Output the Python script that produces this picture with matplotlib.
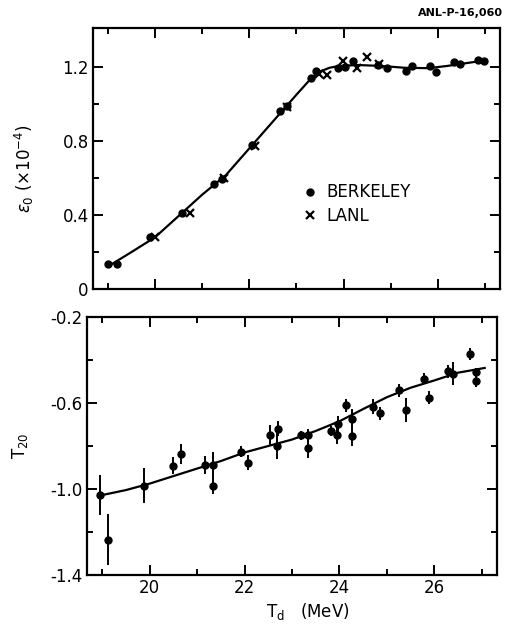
import matplotlib
matplotlib.use("Agg")
import matplotlib.pyplot as plt
from matplotlib.ticker import MultipleLocator, FixedLocator, FuncFormatter

plt.rcParams['font.family'] = ['DejaVu Sans']
plt.rcParams['axes.unicode_minus'] = False

# --- top panel: epsilon_0 (x 10^-4) vs T_d ---
berk_t = [19.00, 19.19, 19.88, 20.56, 21.25, 21.42, 22.06, 22.65, 22.79, 23.30, 23.42,
          23.89, 24.04, 24.21, 24.74, 24.92, 25.32, 25.46, 25.83, 25.97, 26.34, 26.48,
          26.85, 26.99]
berk_e = [0.135, 0.135, 0.283, 0.412, 0.567, 0.592, 0.777, 0.962, 0.989, 1.141, 1.180,
          1.195, 1.202, 1.231, 1.211, 1.195, 1.180, 1.207, 1.207, 1.175, 1.225, 1.216,
          1.238, 1.231]
lanl_t = [19.99, 20.73, 21.46, 22.11, 22.80, 23.47, 23.65, 23.98, 24.28, 24.49, 24.75]
lanl_e = [0.280, 0.412, 0.597, 0.771, 0.983, 1.163, 1.157, 1.234, 1.195, 1.252, 1.216]
fit_top_t = [19.05, 19.5, 20.0, 20.5, 21.0, 21.5, 22.0, 22.5, 23.0, 23.3, 23.5, 23.7,
             23.9, 24.3, 24.8, 25.3, 25.8, 26.2, 26.6, 27.0]
fit_top_e = [0.13, 0.20, 0.28, 0.395, 0.51, 0.615, 0.76, 0.905, 1.05, 1.135, 1.175, 1.195,
             1.205, 1.21, 1.205, 1.195, 1.193, 1.205, 1.22, 1.235]

# --- bottom panel: T20 vs T_d ---
t20_t = [18.96, 19.12, 19.88, 20.49, 20.67, 21.16, 21.33, 21.33, 21.93, 22.08, 22.54,
         22.68, 22.70, 23.19, 23.33, 23.33, 23.83, 23.94, 23.97, 24.13, 24.26, 24.26,
         24.71, 24.85, 25.26, 25.40, 25.79, 25.89, 26.28, 26.40, 26.76, 26.88, 26.88]
t20_v = [-1.028, -1.235, -0.985, -0.892, -0.838, -0.888, -0.888, -0.985, -0.826, -0.877,
         -0.750, -0.800, -0.720, -0.750, -0.750, -0.807, -0.730, -0.750, -0.700, -0.611,
         -0.673, -0.753, -0.617, -0.648, -0.540, -0.633, -0.487, -0.576, -0.452, -0.463,
         -0.372, -0.457, -0.498]
t20_err = [0.093, 0.12, 0.082, 0.04, 0.045, 0.04, 0.06, 0.04, 0.025, 0.035,
           0.048, 0.06, 0.035, 0.02, 0.03, 0.05, 0.025, 0.04, 0.04, 0.03,
           0.045, 0.045, 0.035, 0.03, 0.03, 0.055, 0.025, 0.03, 0.03, 0.055,
           0.027, 0.02, 0.027]
fit_bot_t = [18.96, 19.5, 20.0, 20.5, 21.0, 21.5, 22.0, 22.5, 23.0, 23.5, 24.0, 24.5,
             25.0, 25.5, 26.0, 26.5, 27.06]
fit_bot_v = [-1.03, -1.005, -0.975, -0.94, -0.905, -0.87, -0.83, -0.80, -0.77, -0.73,
             -0.685, -0.628, -0.573, -0.529, -0.495, -0.459, -0.437]

top_major = [0.0, 0.4, 0.8, 1.2]
top_minor = [0.2, 0.6, 1.0]
bot_major = [-1.4, -1.0, -0.6, -0.2]
bot_minor = [-1.2, -0.8, -0.4]

fig = plt.figure(figsize=(5.07, 6.36), dpi=100)
ax1 = fig.add_axes([93/507, 1 - 289/636, 407/507, 261/636])
ax2 = fig.add_axes([87/507, 1 - 575/636, 410/507, 258/636])


def style(ax):
    for s in ax.spines.values():
        s.set_linewidth(1.6)
    ax.set_xlim(18.68, 27.32)
    ax.xaxis.set_major_locator(MultipleLocator(2))
    ax.xaxis.set_minor_locator(MultipleLocator(1))
    ax.tick_params(which='both', direction='in', top=True, right=True, width=1.4,
                   labelsize=12, pad=3)
    ax.tick_params(which='major', length=7)
    ax.tick_params(which='minor', length=4)


# top
ax1.plot(fit_top_t, fit_top_e, color='black', lw=1.6)
ax1.plot(berk_t, berk_e, 'o', color='black', ms=5, label='BERKELEY')
ax1.plot(lanl_t, lanl_e, 'x', color='black', ms=6, mew=1.6, label='LANL')
style(ax1)
ax1.set_ylim(0, 1.41)
ax1.yaxis.set_major_locator(FixedLocator(top_major))
ax1.yaxis.set_minor_locator(FixedLocator(top_minor))
ax1.yaxis.set_major_formatter(FuncFormatter(lambda v, p: '0' if abs(v) < 1e-9 else f'{v:.1f}'))
ax1.tick_params(labelbottom=False)
ax1.set_ylabel(r'$\epsilon_0$ (×10$^{-4}$)', fontsize=12)
ax1.yaxis.set_label_coords(-0.14, 0.46)
ax1.legend(loc='upper left', bbox_to_anchor=(0.5, 0.43), frameon=False, fontsize=12,
           handlelength=0.8, handletextpad=0.6, labelspacing=0.35, borderaxespad=0)

# bottom
ax2.errorbar(t20_t, t20_v, yerr=t20_err, fmt='o', color='black', ms=5,
             elinewidth=1.4, capsize=0)
ax2.plot(fit_bot_t, fit_bot_v, color='black', lw=1.6)
style(ax2)
ax2.set_ylim(-1.4, -0.2)
ax2.yaxis.set_major_locator(FixedLocator(bot_major))
ax2.yaxis.set_minor_locator(FixedLocator(bot_minor))
ax2.yaxis.set_major_formatter(FuncFormatter(lambda v, p: f'{v:.1f}'))
ax2.set_ylabel(r'T$_{20}$', fontsize=12)
ax2.yaxis.set_label_coords(-0.14, 0.5)

fig.text(308/507, 1 - 612/636, r'T$_\mathregular{d}$   (MeV)', ha='center', va='center',
         fontsize=12)
fig.text(503/507, 1 - 13/636, 'ANL-P-16,060', ha='right', va='center', fontsize=8,
         fontweight='bold')

fig.savefig('out.png', dpi=100)
